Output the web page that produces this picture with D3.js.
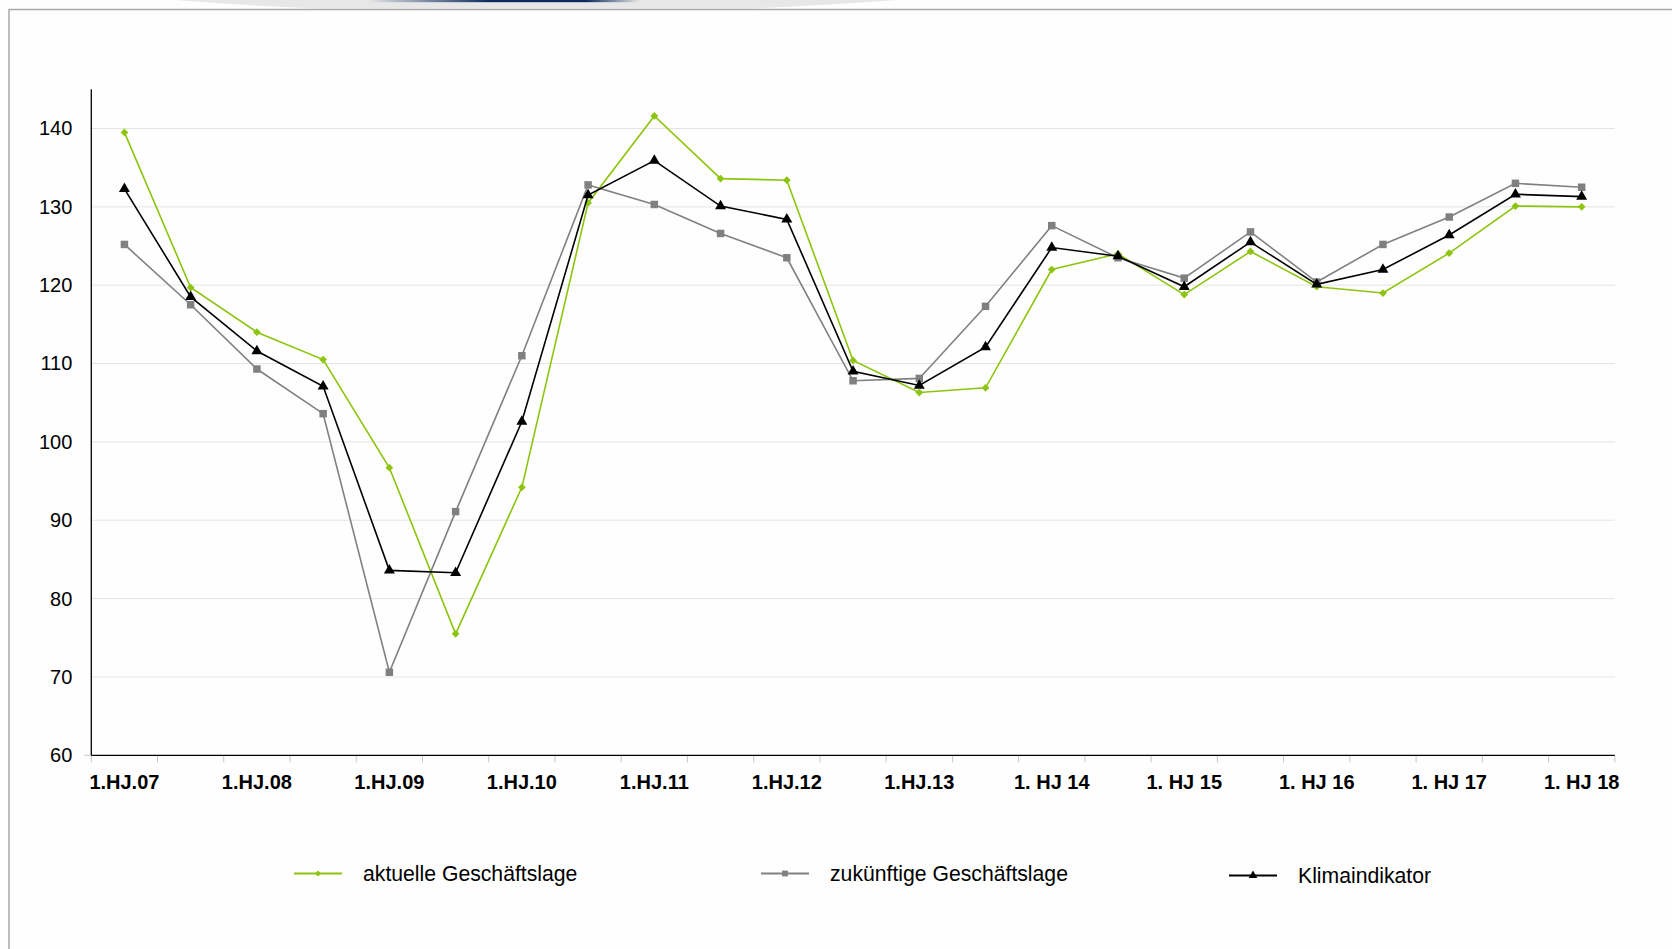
<!DOCTYPE html>
<html>
<head>
<meta charset="utf-8">
<script src="https://cdn.jsdelivr.net/npm/d3@7"></script>
<style>
	html, body { margin: 0; padding: 0; background: #fefefe; }
	svg { display: block; font-family: "Liberation Sans", Arial, sans-serif; }
</style>
</head>
<body>
<div id="chart"></div>
<script>

// Half-year categories (only first halves carry a label):
var categories = [
	'1.HJ.07', '2.HJ.07', '1.HJ.08', '2.HJ.08', '1.HJ.09', '2.HJ.09',
	'1.HJ.10', '2.HJ.10', '1.HJ.11', '2.HJ.11', '1.HJ.12', '2.HJ.12',
	'1.HJ.13', '2.HJ.13', '1. HJ 14', '2. HJ 14', '1. HJ 15', '2. HJ 15',
	'1. HJ 16', '2. HJ 16', '1. HJ 17', '2. HJ 17', '1. HJ 18'
];

var tickLabels = [
	'1.HJ.07', '1.HJ.08', '1.HJ.09', '1.HJ.10', '1.HJ.11', '1.HJ.12',
	'1.HJ.13', '1. HJ 14', '1. HJ 15', '1. HJ 16', '1. HJ 17', '1. HJ 18'
];

var yTicks = [60, 70, 80, 90, 100, 110, 120, 130, 140];

// Series values:
var aktuelle = [139.5, 119.7, 114.0, 110.5, 96.7, 75.5, 94.2, 130.5, 141.6, 133.6, 133.4, 110.4,
	106.3, 106.9, 122.0, 124.0, 118.8, 124.3, 119.8, 119.0, 124.1, 130.1, 130.0];

var zukuenftige = [125.2, 117.5, 109.3, 103.6, 70.6, 91.1, 111.0, 132.8, 130.3, 126.6, 123.5, 107.8,
	108.1, 117.3, 127.6, 123.5, 120.9, 126.8, 120.4, 125.2, 128.7, 133.0, 132.5];

var klima = [132.3, 118.5, 111.6, 107.1, 83.6, 83.3, 102.6, 131.5, 135.9, 130.1, 128.4, 109.0,
	107.2, 112.1, 124.8, 123.7, 119.8, 125.5, 120.1, 122.0, 126.4, 131.6, 131.3];

var seriesNames = ['aktuelle Geschäftslage', 'zukünftige Geschäftslage', 'Klimaindikator'];

// Canvas:
var width = 1672,
	height = 949,
	plot = { left: 91.3, right: 1614.8, top: 89.3, bottom: 755.3 };

// The green marker is a square turned on its corner (Excel-style diamond):
var series = [
	{ name: seriesNames[0], values: aktuelle, color: '#8dc40e', symbol: d3.symbolSquare, size: 30, rotate: 45, legendX: 294 },
	{ name: seriesNames[1], values: zukuenftige, color: '#808080', symbol: d3.symbolSquare, size: 56, rotate: 0, legendX: 761 },
	{ name: seriesNames[2], values: klima, color: '#000000', symbol: d3.symbolTriangle, size: 52, rotate: 0, legendX: 1229 }
];

var svg = d3.select('#chart').append('svg')
	.attr('width', width)
	.attr('height', height);

// Header decoration and frame:
var defs = svg.append('defs');
var grad = defs.append('linearGradient').attr('id', 'blueStrip');
grad.append('stop').attr('offset', '0%').attr('stop-color', '#e7e7e7');
grad.append('stop').attr('offset', '45%').attr('stop-color', '#0c2b5e');
grad.append('stop').attr('offset', '80%').attr('stop-color', '#0c2b5e');
grad.append('stop').attr('offset', '100%').attr('stop-color', '#e7e7e7');

svg.append('path')
	.attr('d', 'M175,0 Q250,6 320,8.5 L750,8.5 Q830,5 897,0 Z')
	.attr('fill', '#e7e7e7');

svg.append('rect')
	.attr('x', 367).attr('y', 0)
	.attr('width', 273).attr('height', 2.2)
	.attr('fill', 'url(#blueStrip)');

svg.append('path')
	.attr('d', 'M9,' + height + ' L9,9.5 L' + width + ',9.5')
	.attr('fill', 'none')
	.attr('stroke', '#a9a9a9')
	.attr('stroke-width', 1.5);

// Scales:
var x = d3.scaleBand()
	.domain(categories)
	.range([plot.left, plot.right])
	.padding(0);

var y = d3.scaleLinear()
	.domain([60, 145])
	.range([plot.bottom, plot.top]);

var cx = function(i) { return x(categories[i]) + x.bandwidth() / 2; };

// Gridlines:
svg.append('g')
	.attr('class', 'grid')
	.selectAll('line')
	.data(yTicks.filter(function(d) { return d > 60; }))
	.join('line')
		.attr('x1', plot.left)
		.attr('x2', plot.right)
		.attr('y1', function(d) { return y(d); })
		.attr('y2', function(d) { return y(d); })
		.attr('stroke', '#e4e4e4')
		.attr('stroke-width', 1);

// Y axis:
var yAxis = svg.append('g')
	.attr('transform', 'translate(' + plot.left + ',0)')
	.call(d3.axisLeft(y).tickValues(yTicks).tickSize(0).tickPadding(19));

yAxis.select('.domain').attr('stroke', '#000').attr('stroke-width', 1.3).attr('d', 'M0,' + plot.top + 'V' + plot.bottom);
yAxis.selectAll('text')
	.attr('font-size', 20)
	.attr('font-family', '"Liberation Sans", Arial, sans-serif')
	.attr('fill', '#000');

svg.append('line')
	.attr('x1', plot.left - 7).attr('x2', plot.left)
	.attr('y1', plot.bottom).attr('y2', plot.bottom)
	.attr('stroke', '#c4c4c4');

// X axis (ticks on category boundaries, labels every second category):
var boundaries = categories.map(function(c) { return x(c); }).concat([plot.right]);

svg.append('g')
	.attr('class', 'xticks')
	.selectAll('line')
	.data(boundaries)
	.join('line')
		.attr('x1', function(d) { return d; })
		.attr('x2', function(d) { return d; })
		.attr('y1', plot.bottom)
		.attr('y2', plot.bottom + 7)
		.attr('stroke', '#c4c4c4');

svg.append('line')
	.attr('x1', plot.left).attr('x2', plot.right)
	.attr('y1', plot.bottom).attr('y2', plot.bottom)
	.attr('stroke', '#000')
	.attr('stroke-width', 1.3);

svg.append('g')
	.attr('class', 'xlabels')
	.selectAll('text')
	.data(tickLabels)
	.join('text')
		.attr('x', function(d) { return x(d) + x.bandwidth() / 2; })
		.attr('y', 788.5)
		.attr('text-anchor', 'middle')
		.attr('font-size', 20)
		.attr('font-weight', 'bold')
		.attr('fill', '#000')
		.text(function(d) { return d; });

// Lines and markers:
var line = d3.line()
	.x(function(d, i) { return cx(i); })
	.y(function(d) { return y(d); });

series.forEach(function(s) {
	var g = svg.append('g').attr('class', 'series');

	g.append('path')
		.datum(s.values)
		.attr('d', line)
		.attr('fill', 'none')
		.attr('stroke', s.color)
		.attr('stroke-width', 1.6);

	g.selectAll('path.marker')
		.data(s.values)
		.join('path')
			.attr('class', 'marker')
			.attr('transform', function(d, i) {
				return 'translate(' + cx(i) + ',' + y(d) + ') rotate(' + s.rotate + ')';
			})
			.attr('d', d3.symbol().type(s.symbol).size(s.size))
			.attr('fill', s.color);
});

// Legend:
var legend = svg.append('g').attr('class', 'legend');

series.forEach(function(s, i) {
	var ly = i === 2 ? 875.5 : 873.5;

	legend.append('line')
		.attr('x1', s.legendX).attr('x2', s.legendX + 48)
		.attr('y1', ly).attr('y2', ly)
		.attr('stroke', s.color)
		.attr('stroke-width', 1.8);

	legend.append('path')
		.attr('transform', 'translate(' + (s.legendX + 24) + ',' + ly + ') rotate(' + s.rotate + ')')
		.attr('d', d3.symbol().type(s.symbol).size(s.size * 0.6))
		.attr('fill', s.color);

	legend.append('text')
		.attr('x', s.legendX + 69)
		.attr('y', ly)
		.attr('dy', '0.35em')
		.attr('font-size', 21.2)
		.attr('fill', '#000')
		.text(s.name);
});

</script>
</body>
</html>
